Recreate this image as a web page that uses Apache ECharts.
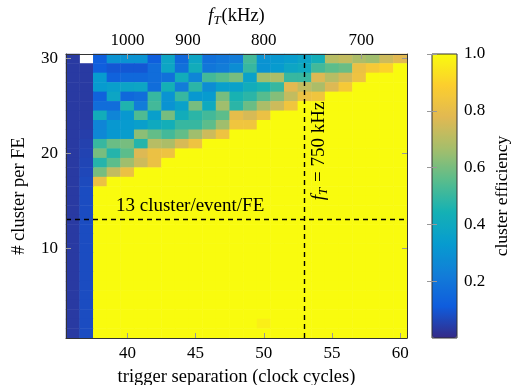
<!DOCTYPE html>
<html>
<head>
<meta charset="utf-8">
<script src="https://cdn.jsdelivr.net/npm/echarts@6/dist/echarts.min.js"></script>
<style>
  html, body { margin: 0; background: #fff; }
  #chart { width: 513px; height: 385px; }
</style>
</head>
<body>
<div id="chart"></div>
<script>
// trigger separation (clock cycles) and clusters per FE
const xCats = ['36', '37', '38', '39', '40', '41', '42', '43', '44', '45', '46', '47', '48',
  '49', '50', '51', '52', '53', '54', '55', '56', '57', '58', '59', '60'];
const yCats = ['1', '2', '3', '4', '5', '6', '7', '8', '9', '10', '11', '12', '13', '14', '15',
  '16', '17', '18', '19', '20', '21', '22', '23', '24', '25', '26', '27', '28', '29', '30'];

// top axis: trigger frequency, f_T = 40 MHz / separation
const clockKHz = 40000;
const topTicksKHz = [1000, 900, 800, 700];

// markers
const separationLine = '53';
const clusterLine = '13';

// cluster efficiency, one row per y (30 at top -> 1 at bottom), columns x = 36..60
const effRows = [
  [.035, null, .12, .30, .30, .30, .12, .38, .15, .38, .18, .20, .22, .52, .30, .32, .34, .37, .43, .70, .72, .68, .66, .74, .78],
  [.035, .035, .12, .10, .10, .10, .17, .38, .18, .42, .20, .22, .28, .50, .30, .33, .38, .40, .52, .56, .58, .82, .86, .90, 1],
  [.035, .035, .33, .13, .15, .15, .17, .18, .42, .25, .52, .55, .60, .36, .66, .68, .50, .50, .77, .70, .75, .83, 1, 1, 1],
  [.035, .035, .33, .35, .37, .38, .17, .44, .22, .48, .28, .35, .36, .42, .45, .50, .78, .72, .68, .77, .86, 1, 1, 1, 1],
  [.035, .035, .13, .38, .15, .17, .50, .30, .50, .32, .33, .60, .45, .48, .55, .62, .72, .82, .84, 1, 1, 1, 1, 1, 1],
  [.035, .035, .17, .17, .46, .22, .52, .30, .36, .60, .40, .66, .48, .58, .68, .74, .84, 1, 1, 1, 1, 1, 1, 1, 1],
  [.035, .035, .42, .25, .32, .54, .35, .60, .42, .48, .52, .56, .80, .76, .82, 1, 1, 1, 1, 1, 1, 1, 1, 1, 1],
  [.035, .040, .25, .32, .33, .35, .40, .43, .50, .50, .56, .66, .84, .84, 1, 1, 1, 1, 1, 1, 1, 1, 1, 1, 1],
  [.035, .045, .26, .32, .34, .63, .57, .52, .57, .66, .74, .83, 1, 1, 1, 1, 1, 1, 1, 1, 1, 1, 1, 1, 1],
  [.035, .050, .50, .58, .60, .47, .70, .68, .76, .83, 1, 1, 1, 1, 1, 1, 1, 1, 1, 1, 1, 1, 1, 1, 1],
  [.035, .055, .60, .47, .56, .77, .82, .83, 1, 1, 1, 1, 1, 1, 1, 1, 1, 1, 1, 1, 1, 1, 1, 1, 1],
  [.035, .060, .47, .56, .66, .74, .82, 1, 1, 1, 1, 1, 1, 1, 1, 1, 1, 1, 1, 1, 1, 1, 1, 1, 1],
  [.035, .065, .60, .72, .82, 1, 1, 1, 1, 1, 1, 1, 1, 1, 1, 1, 1, 1, 1, 1, 1, 1, 1, 1, 1],
  [.035, .070, .82, 1, 1, 1, 1, 1, 1, 1, 1, 1, 1, 1, 1, 1, 1, 1, 1, 1, 1, 1, 1, 1, 1],
  [.035, .075, 1, 1, 1, 1, 1, 1, 1, 1, 1, 1, 1, 1, 1, 1, 1, 1, 1, 1, 1, 1, 1, 1, 1],
  [.035, .075, 1, 1, 1, 1, 1, 1, 1, 1, 1, 1, 1, 1, 1, 1, 1, 1, 1, 1, 1, 1, 1, 1, 1],
  [.035, .075, 1, 1, 1, 1, 1, 1, 1, 1, 1, 1, 1, 1, 1, 1, 1, 1, 1, 1, 1, 1, 1, 1, 1],
  [.035, .075, 1, 1, 1, 1, 1, 1, 1, 1, 1, 1, 1, 1, 1, 1, 1, 1, 1, 1, 1, 1, 1, 1, 1],
  [.035, .075, 1, 1, 1, 1, 1, 1, 1, 1, 1, 1, 1, 1, 1, 1, 1, 1, 1, 1, 1, 1, 1, 1, 1],
  [.035, .075, 1, 1, 1, 1, 1, 1, 1, 1, 1, 1, 1, 1, 1, 1, 1, 1, 1, 1, 1, 1, 1, 1, 1],
  [.035, .075, 1, 1, 1, 1, 1, 1, 1, 1, 1, 1, 1, 1, 1, 1, 1, 1, 1, 1, 1, 1, 1, 1, 1],
  [.035, .075, 1, 1, 1, 1, 1, 1, 1, 1, 1, 1, 1, 1, 1, 1, 1, 1, 1, 1, 1, 1, 1, 1, 1],
  [.035, .075, 1, 1, 1, 1, 1, 1, 1, 1, 1, 1, 1, 1, 1, 1, 1, 1, 1, 1, 1, 1, 1, 1, 1],
  [.035, .075, 1, 1, 1, 1, 1, 1, 1, 1, 1, 1, 1, 1, 1, 1, 1, 1, 1, 1, 1, 1, 1, 1, 1],
  [.035, .075, 1, 1, 1, 1, 1, 1, 1, 1, 1, 1, 1, 1, 1, 1, 1, 1, 1, 1, 1, 1, 1, 1, 1],
  [.035, .075, 1, 1, 1, 1, 1, 1, 1, 1, 1, 1, 1, 1, 1, 1, 1, 1, 1, 1, 1, 1, 1, 1, 1],
  [.035, .075, 1, 1, 1, 1, 1, 1, 1, 1, 1, 1, 1, 1, 1, 1, 1, 1, 1, 1, 1, 1, 1, 1, 1],
  [.035, .075, 1, 1, 1, 1, 1, 1, 1, 1, 1, 1, 1, 1, 1, 1, 1, 1, 1, 1, 1, 1, 1, 1, 1],
  [.035, .075, 1, 1, 1, 1, 1, 1, 1, 1, 1, 1, 1, 1, .97, 1, 1, 1, 1, 1, 1, 1, 1, 1, 1],
  [.035, .075, 1, 1, 1, 1, 1, 1, 1, 1, 1, 1, 1, 1, 1, 1, 1, 1, 1, 1, 1, 1, 1, 1, 1]
];

// pgfplots parula
const parula = ['#352a87', '#0f5cdd', '#127dd8', '#079ccf', '#15b1b4',
  '#59bd8c', '#a5be6b', '#e1b952', '#fcce2e', '#f9fb0e'];

const FONT = 'Liberation Serif';
const tickColor = '#999';
const frameColor = '#333';

const cells = [];
effRows.forEach((row, r) => {
  const yIdx = yCats.length - 1 - r;
  row.forEach((v, c) => {
    if (v !== null) cells.push([c, yIdx, v]);
  });
});

const topTickPos = topTicksKHz.map((f) => clockKHz / f);
const everyFive = (i, v) => Number(v) % 5 === 0;
const everyTen = (i, v) => Number(v) % 10 === 0;

const chart = echarts.init(document.getElementById('chart'));
chart.setOption({
  animation: false,
  textStyle: { fontFamily: FONT, color: '#000' },
  grid: [
    { left: 66, top: 54, width: 341, height: 284, show: false, outerBoundsMode: 'none' },
    { left: 432, top: 54, width: 25, height: 284, show: true, z: 10, outerBoundsMode: 'none',
      backgroundColor: 'transparent', borderColor: frameColor, borderWidth: 1 }
  ],
  xAxis: [
    {
      gridIndex: 0, type: 'category', data: xCats, position: 'bottom', z: 10,
      axisLine: { show: true, lineStyle: { color: frameColor, width: 1 } },
      axisTick: { show: true, inside: true, alignWithLabel: true, interval: everyFive,
        length: 5, lineStyle: { color: tickColor } },
      axisLabel: { interval: everyFive, margin: 7, fontSize: 17, fontFamily: FONT, color: '#000' },
      splitLine: { show: false },
      name: 'trigger separation (clock cycles)', nameLocation: 'middle', nameGap: 30,
      nameTextStyle: { fontSize: 18.5, fontFamily: FONT, color: '#000' }
    },
    {
      gridIndex: 0, type: 'value', position: 'top', min: 35.5, max: 60.5, z: 10,
      axisLine: { show: true, lineStyle: { color: frameColor, width: 1 } },
      axisTick: { show: true, inside: true, customValues: topTickPos, length: 5,
        lineStyle: { color: tickColor } },
      axisLabel: { customValues: topTickPos, margin: 5, fontSize: 17, fontFamily: FONT, color: '#000',
        formatter: (v) => String(Math.round(clockKHz / v)) },
      splitLine: { show: false },
      name: '{i|f}{s|T}(kHz)', nameLocation: 'middle', nameGap: 27,
      nameTextStyle: {
        fontSize: 18.5, fontFamily: FONT, color: '#000',
        rich: {
          i: { fontSize: 18.5, fontStyle: 'italic', fontFamily: FONT },
          s: { fontSize: 13, fontStyle: 'italic', fontFamily: FONT, padding: [9, 1, 0, 0] }
        }
      }
    },
    { gridIndex: 1, type: 'value', show: false, min: 0, max: 1 }
  ],
  yAxis: [
    {
      gridIndex: 0, type: 'category', data: yCats, position: 'left', z: 10,
      axisLine: { show: true, lineStyle: { color: frameColor, width: 1 } },
      axisTick: { show: true, inside: true, alignWithLabel: true, interval: everyTen,
        length: 5, lineStyle: { color: tickColor } },
      axisLabel: { interval: everyTen, margin: 8, fontSize: 17, fontFamily: FONT, color: '#000' },
      splitLine: { show: false },
      name: '# cluster per FE', nameLocation: 'middle', nameGap: 37, nameRotate: 90,
      nameTextStyle: { fontSize: 18.5, fontFamily: FONT, color: '#000' }
    },
    {
      gridIndex: 0, type: 'category', data: yCats, position: 'right', z: 10,
      axisLine: { show: true, lineStyle: { color: frameColor, width: 1 } },
      axisTick: { show: true, inside: true, alignWithLabel: true, interval: everyTen,
        length: 5, lineStyle: { color: tickColor } },
      axisLabel: { show: false },
      splitLine: { show: false }
    },
    {
      gridIndex: 1, type: 'value', min: 0, max: 1, interval: 0.2, position: 'right', z: 12,
      axisLine: { show: false },
      axisTick: { show: true, inside: true, length: 5, lineStyle: { color: tickColor } },
      axisLabel: { showMinLabel: false, margin: 7, fontSize: 17, fontFamily: FONT, color: '#000',
        formatter: (v) => v.toFixed(1) },
      splitLine: { show: false },
      name: 'cluster efficiency', nameLocation: 'middle', nameGap: 36, nameRotate: 90,
      nameTextStyle: { fontSize: 17.5, fontFamily: FONT, color: '#000' }
    },
    {
      gridIndex: 1, type: 'value', min: 0, max: 1, interval: 0.2, position: 'left', z: 12,
      axisLine: { show: false },
      axisTick: { show: true, inside: true, length: 5, lineStyle: { color: tickColor } },
      axisLabel: { show: false },
      splitLine: { show: false }
    }
  ],
  visualMap: {
    type: 'continuous', seriesIndex: 0, min: 0, max: 1, calculable: false,
    left: 432, top: 54, itemWidth: 25, itemHeight: 284, padding: 0,
    hoverLink: false, inRange: { color: parula }
  },
  series: [
    {
      type: 'heatmap', xAxisIndex: 0, yAxisIndex: 0, data: cells,
      itemStyle: { borderWidth: 0 }, emphasis: { disabled: true },
      markLine: {
        silent: true, symbol: 'none', animation: false,
        label: { show: false },
        lineStyle: { color: '#000', type: [5, 4], width: 1.4 },
        data: [
          { xAxis: xCats.indexOf(separationLine) },
          { yAxis: yCats.indexOf(clusterLine) }
        ]
      }
    }
  ],
  graphic: [
    {
      type: 'text', x: 116, y: 206, z: 20,
      style: { text: clusterLine + ' cluster/event/FE', font: '19px "' + FONT + '"',
        fill: '#000', verticalAlign: 'middle' }
    },
    {
      type: 'text', x: 319, y: 151, rotation: Math.PI / 2, z: 20,
      style: {
        text: '{i|f}{s|T} = 750 kHz', font: '19px "' + FONT + '"', fill: '#000',
        align: 'center', verticalAlign: 'middle',
        rich: {
          i: { fontSize: 19, fontStyle: 'italic', fontFamily: FONT },
          s: { fontSize: 13, fontStyle: 'italic', fontFamily: FONT, padding: [9, 1, 0, 0] }
        }
      }
    }
  ]
});
</script>
</body>
</html>
